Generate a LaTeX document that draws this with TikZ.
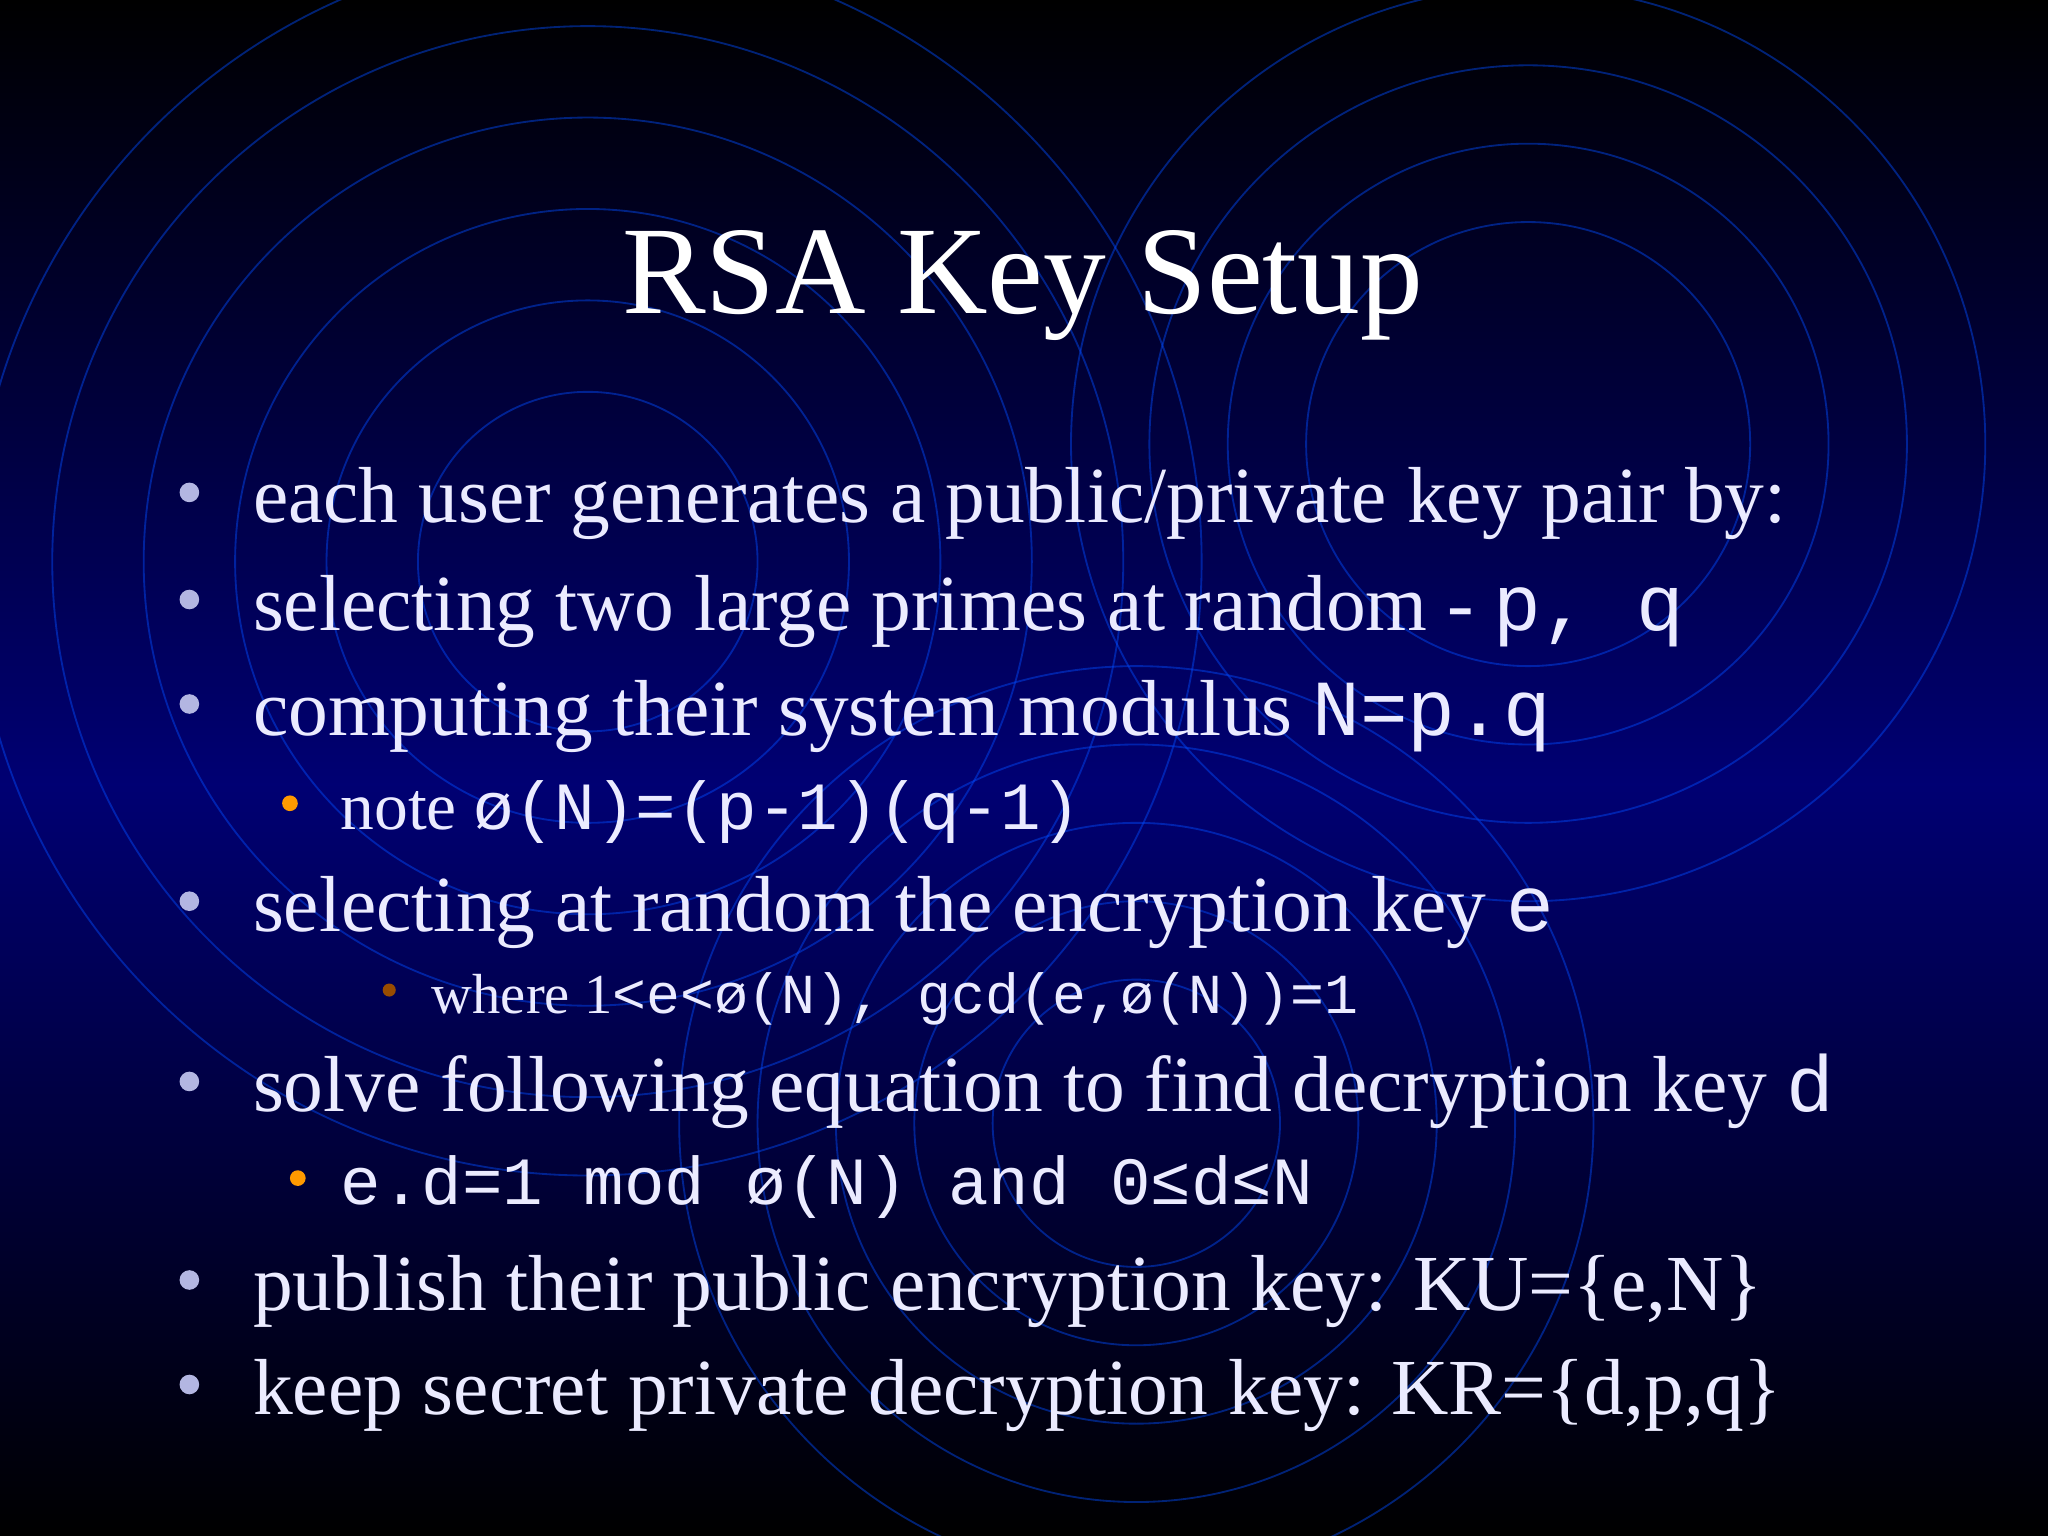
\documentclass[tikz,border=0pt]{standalone}
\usepackage{fontspec}
\setmainfont{Liberation Serif}
\setmonofont{Liberation Mono}
\begin{document}
\begin{tikzpicture}[x=0.01cm,y=-0.01cm,
  ring/.style={draw=blue!70!cyan,line width=0.4pt,opacity=0.45},
  txt/.style={anchor=base west,inner sep=0,text=white!92!blue,font=\fontsize{17.3}{19}\selectfont},
  sub/.style={anchor=base west,inner sep=0,text=white!92!blue,font=\fontsize{14.7}{16}\selectfont},
  subsub/.style={anchor=base west,inner sep=0,text=white!92!blue,font=\fontsize{12.3}{14}\selectfont},
  dot/.style={circle,fill=cyan!25!blue!30!white,inner sep=0,minimum size=0.15cm},
  odot/.style={circle,fill=orange!80!yellow,inner sep=0,minimum size=0.12cm}]
\useasboundingbox (0,0) rectangle (1568,1176);
\shade[top color=black,bottom color=blue!45!black] (0,0) rectangle (1568,600);
\shade[top color=blue!45!black,bottom color=black] (0,600) rectangle (1568,1176);
\foreach \r in {130,200,270,340,410,470} \draw[ring] (450,430) circle (\r);
\foreach \r in {170,230,290,350} \draw[ring] (1170,340) circle (\r);
\foreach \r in {110,170,230,290,350} \draw[ring] (870,860) circle (\r);
\node[anchor=base,inner sep=0,text=white,font=\fontsize{27.3}{30}\selectfont] (title) at (783,240) {RSA Key Setup};
\node[dot] (b1) at (145,377) {};
\node[txt] (t1) at (193,400) {each user generates a public/private key pair by:};
\node[dot] (b2) at (145,459) {};
\node[txt] (t2) at (193,483) {selecting two large primes at random - \texttt{p,  q}};
\node[dot] (b3) at (145,539) {};
\node[txt] (t3) at (193,563) {computing their system modulus \texttt{N=p.q}};
\node[odot] (b4) at (222,615) {};
\node[sub] (t4) at (260,635) {note \texttt{ø(N)=(p-1)(q-1)}};
\node[dot] (b5) at (145,690) {};
\node[txt] (t5) at (193,713) {selecting at random the encryption key \texttt{e}};
\node[odot,fill=orange!60!black,minimum size=0.1cm] (b6) at (298,758) {};
\node[subsub] (t6) at (330,776) {where 1\texttt{<e<ø(N), gcd(e,ø(N))=1}};
\node[dot] (b7) at (145,828) {};
\node[txt] (t7) at (193,851) {solve following equation to find decryption key \texttt{d}};
\node[odot] (b8) at (228,902) {};
\node[sub] (t8) at (260,922) {\texttt{e.d=1 mod ø(N) and 0≤d≤N}};
\node[dot] (b9) at (145,980) {};
\node[txt] (t9) at (193,1003) {publish their public encryption key: KU=\{e,N\}};
\node[dot] (b10) at (145,1060) {};
\node[txt] (t10) at (193,1083) {keep secret private decryption key: KR=\{d,p,q\}};
\end{tikzpicture}
\end{document}
